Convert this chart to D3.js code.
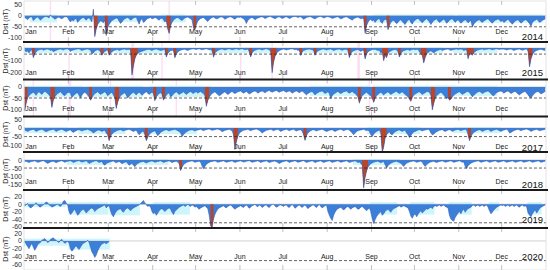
<!DOCTYPE html>
<html>
<head>
<meta charset="utf-8">
<script src="https://cdn.jsdelivr.net/npm/d3@7"></script>
<style>
  body { margin: 0; background: #fff; }
  text { font-family: "Liberation Sans", Arial, sans-serif; }
</style>
</head>
<body>
<script>
// daily Dst (nT), one value per day
var years = [2014, 2015, 2016, 2017, 2018, 2019, 2020];
var monthNames = ["Jan", "Feb", "Mar", "Apr", "May", "Jun", "Jul", "Aug", "Sep", "Oct", "Nov", "Dec"];
var monthStarts = [0, 31, 59, 90, 120, 151, 181, 212, 243, 273, 304, 334];

var dst2014 = [
  -8,-12,-18,-10,-6,-4,-22,-15,-9,-6, -12,-20,-14,-8,-5,-3,-6,-10,4,-5, -9,-16,-12,-8,-6,-11,-14,-9,-5,-4, -8,
  -20,-28,-18,-24,-15,-12,-30,-22,-16,-10, -8,-14,-20,-12,-9,-18,-28,30,-95,-60, -40,-30,-24,-26,-32,-20,-90,-55,
  -40,-30,-22,-18,-14,-10,-12,-25,-35,-28, -18,-14,-10,-8,-12,-20,-16,-10,-8,-6, -24,-38,-20,-14,-30,-26,-18,-12,-10,-8, -14,
  -12,-8,-10,-16,-20,-14,-10,-18,-28,-22, -60,-80,-45,-30,-20,-14,-10,-8,-12,-18, -22,-15,-10,-8,-6,-10,-14,-20,-55,-65,
  -40,-25,-18,-12,-10,-8,-14,-20,-26,-18, -12,-8,-6,-10,-14,-12,-8,-6,-5,-10, -16,-12,-8,-6,-4,-8,-12,-16,-10,-6, -8,
  -6,-10,-14,-20,-35,-22,-15,-10,-8,-12, -18,-14,-10,-8,-6,-4,-8,-12,-10,-6, -4,-3,-8,-10,-14,-10,-6,-5,-8,-12,
  -10,-6,-5,-8,-12,-10,-6,-4,-3,-5, -8,-6,-4,-10,-16,-12,-8,-6,-5,-4, -8,-12,-14,-10,-6,-4,-3,-6,-10,-8, -5,
  -4,-6,-8,-12,-10,-8,-6,-4,-10,-14, -12,-8,-6,-5,-8,-12,-16,-20,-14,-10, -8,-6,-10,-14,-12,-10,-80,-45,-30,-20, -16,
  -25,-18,-30,-22,-16,-12,-28,-35,-20,-18, -14,-63,-45,-30,-24,-20,-28,-36,-30,-22, -18,-26,-34,-40,-28,-20,-16,-30,-38,-25,
  -20,-15,-12,-18,-26,-32,-25,-18,-14,-20, -28,-40,-30,-22,-18,-14,-24,-30,-26,-20, -16,-22,-34,-28,-20,-16,-14,-22,-30,-24, -18,
  -26,-34,-28,-22,-18,-24,-32,-26,-20,-52, -38,-30,-24,-20,-18,-26,-30,-24,-20,-16, -14,-22,-28,-34,-26,-20,-18,-14,-20,-26,
  -22,-30,-26,-20,-16,-24,-32,-38,-30,-24, -20,-18,-26,-34,-28,-22,-18,-20,-28,-36, -48,-30,-24,-20,-16,-22,-30,-26,-20,-18, -14
];
var dst2015 = [
  -20,-30,-25,-40,-22,-15,-80,-50,-30,-20, -15,-12,-10,-18,-14,-10,-8,-12,-20,-16, -30,-24,-18,-14,-10,-8,-12,-16,-10,-8, -6,
  -14,-28,-20,-16,-12,-10,-8,-6,-14,-20, -16,-12,-10,-8,-12,-18,-50,-40,-24,-18, -14,-20,-30,-60,-40,-28,-20,-14,
  -60,-40,-30,-22,-18,-14,-12,-20,-16,-12, -10,-8,-14,-12,-10,-20,-223,-150,-90,-60, -45,-36,-30,-26,-22,-18,-14,-12,-10,-16, -20,
  -14,-10,-8,-12,-16,-20,-18,-14,-12,-75, -45,-30,-22,-18,-20,-80,-50,-32,-24,-18, -14,-12,-10,-16,-20,-14,-10,-8,-6,-10,
  -12,-8,-6,-10,-14,-12,-8,-6,-10,-14, -12,-20,-76,-40,-28,-20,-14,-10,-8,-12, -16,-12,-8,-6,-10,-14,-12,-8,-6,-10, -12,
  -8,-6,-10,-14,-12,-8,-30,-73,-40,-26, -18,-14,-10,-8,-12,-16,-12,-8,-6,-10, -14,-30,-204,-120,-70,-45,-30,-22,-16,-12,
  -8,-12,-16,-12,-10,-8,-6,-10,-14,-12, -20,-16,-61,-35,-22,-16,-12,-10,-8,-12, -14,-20,-60,-35,-24,-18,-14,-10,-8,-12, -16,
  -12,-10,-8,-14,-20,-16,-12,-10,-8,-14, -18,-14,-10,-12,-20,-80,-45,-30,-22,-18, -14,-12,-20,-28,-20,-16,-90,-50,-32,-24, -18,
  -14,-12,-10,-16,-20,-18,-40,-30,-105,-60, -80,-45,-30,-24,-18,-14,-12,-16,-30,-75, -45,-30,-22,-18,-14,-12,-20,-16,-12,-10,
  -14,-12,-10,-30,-50,-60,-124,-80,-50,-36, -28,-22,-30,-40,-30,-22,-18,-14,-12,-20, -16,-12,-10,-8,-14,-20,-16,-12,-10,-8, -12,
  -10,-8,-12,-20,-16,-12,-89,-50,-40,-60, -40,-28,-20,-16,-12,-10,-8,-14,-12,-10, -8,-6,-10,-14,-12,-8,-6,-10,-12,-8,
  -10,-8,-12,-16,-12,-10,-8,-14,-20,-16, -12,-10,-8,-14,-18,-14,-10,-8,-30,-155, -90,-55,-36,-26,-20,-16,-12,-10,-14,-18, -20
];
var dst2016 = [
  -110,-75,-50,-40,-32,-28,-24,-30,-38,-26, -22,-28,-34,-26,-20,-24,-30,-36,-45,-93, -60,-45,-36,-30,-26,-22,-28,-36,-40,-32, -26,
  -24,-30,-48,-40,-34,-28,-26,-38,-50,-36, -28,-24,-30,-36,-45,-60,-50,-38,-30,-26, -22,-28,-34,-30,-26,-22,-28,-40,
  -34,-28,-24,-36,-50,-98,-70,-50,-40,-34, -30,-26,-36,-50,-42,-34,-28,-24,-30,-36, -28,-24,-30,-38,-32,-26,-22,-28,-34,-28, -24,
  -30,-62,-45,-36,-30,-26,-34,-60,-48,-38, -30,-26,-45,-40,-32,-26,-22,-28,-34,-30, -26,-22,-28,-34,-28,-24,-20,-26,-30,-24,
  -22,-28,-24,-20,-26,-30,-40,-88,-62,-45, -36,-30,-26,-22,-28,-34,-40,-36,-30,-26, -22,-28,-34,-30,-24,-20,-26,-30,-26,-22, -20,
  -18,-24,-28,-24,-20,-26,-32,-28,-24,-20, -18,-22,-28,-24,-20,-18,-22,-26,-22,-18, -16,-20,-24,-20,-18,-16,-20,-24,-20,-18,
  -16,-20,-24,-20,-18,-22,-28,-24,-20,-18, -22,-26,-22,-18,-24,-30,-36,-30,-26,-22, -20,-28,-36,-30,-26,-22,-20,-18,-24,-30, -26,
  -22,-30,-53,-40,-32,-28,-24,-20,-26,-30, -26,-22,-20,-18,-24,-28,-24,-20,-26,-30, -36,-45,-74,-52,-40,-34,-28,-24,-30,-36, -40,
  -50,-70,-52,-40,-34,-28,-24,-30,-36,-30, -26,-22,-28,-34,-30,-26,-22,-20,-26,-30, -26,-22,-28,-34,-40,-46,-55,-65,-48,-38,
  -32,-28,-24,-22,-28,-34,-30,-26,-22,-20, -26,-36,-104,-75,-52,-40,-34,-28,-24,-30, -36,-45,-52,-48,-60,-55,-46,-38,-32,-28, -24,
  -22,-28,-34,-30,-26,-22,-20,-26,-34,-45, -38,-32,-26,-22,-20,-24,-30,-26,-22,-20, -18,-24,-30,-38,-40,-32,-26,-22,-20,-18,
  -22,-28,-24,-20,-18,-24,-30,-26,-22,-20, -26,-32,-36,-30,-26,-22,-20,-28,-36,-45, -50,-40,-32,-26,-22,-20,-26,-32,-28,-24, -20
];
var dst2017 = [
  -12,-16,-20,-16,-12,-10,-8,-14,-20,-16, -12,-10,-8,-12,-18,-22,-18,-14,-12,-10, -8,-14,-20,-16,-12,-10,-8,-12,-16,-20, -16,
  -14,-12,-20,-26,-20,-16,-12,-10,-14,-18, -14,-12,-10,-8,-12,-16,-20,-30,-24,-18, -14,-12,-16,-20,-16,-14,-30,-40,
  -74,-50,-36,-28,-22,-18,-14,-12,-10,-14, -18,-14,-12,-10,-8,-12,-16,-20,-16,-12, -28,-40,-30,-22,-18,-40,-74,-55,-40,-30, -24,
  -20,-16,-30,-45,-36,-26,-20,-16,-12,-10, -14,-18,-14,-12,-10,-8,-12,-16,-20,-30, -50,-40,-30,-24,-18,-14,-12,-10,-14,-18,
  -14,-12,-10,-8,-12,-16,-12,-10,-8,-6, -10,-14,-12,-10,-8,-6,-10,-14,-22,-18, -14,-12,-10,-8,-12,-16,-40,-125,-80,-50, -32,
  -24,-18,-14,-12,-10,-8,-12,-16,-12,-10, -8,-6,-10,-14,-20,-30,-24,-18,-14,-12, -10,-8,-12,-16,-12,-10,-8,-14,-20,-16,
  -12,-10,-8,-12,-16,-12,-10,-8,-14,-18, -14,-12,-10,-20,-40,-72,-45,-30,-22,-16, -12,-10,-14,-18,-14,-12,-10,-8,-12,-16, -20,
  -18,-14,-12,-10,-16,-20,-16,-12,-10,-8, -12,-16,-12,-10,-8,-14,-20,-30,-40,-30, -22,-16,-14,-12,-10,-8,-12,-16,-12,-20, -40,
  -50,-36,-26,-20,-16,-12,-30,-142,-110,-60, -40,-30,-22,-36,-40,-30,-22,-18,-14,-12, -16,-20,-16,-12,-30,-40,-55,-45,-32,-24,
  -20,-16,-12,-10,-14,-18,-14,-12,-10,-8, -12,-30,-40,-36,-28,-22,-18,-14,-12,-10, -16,-20,-16,-12,-10,-14,-20,-16,-12,-10, -8,
  -12,-16,-12,-10,-8,-14,-40,-74,-50,-36, -26,-20,-16,-12,-10,-14,-20,-16,-12,-10, -8,-14,-20,-16,-12,-10,-8,-12,-16,-20,
  -16,-12,-10,-8,-14,-30,-26,-20,-16,-12, -10,-8,-12,-16,-12,-10,-8,-6,-10,-14, -20,-16,-12,-10,-8,-12,-16,-14,-12,-10, -8
];
var dst2018 = [
  -10,-8,-12,-16,-11,-9,-7,-5,-10,-14, -13,-9,-6,-4,-9,-15,-21,-17,-12,-9, -7,-12,-17,-13,-9,-6,-4,-9,-14,-11, -8,
  -6,-4,-9,-15,-12,-8,-6,-3,-9,-13, -11,-8,-5,-13,-22,-17,-12,-9,-6,-4, -10,-15,-12,-9,-26,-32,-24,-17,
  -14,-11,-8,-6,-12,-17,-13,-9,-15,-24, -19,-14,-11,-21,-33,-27,-20,-32,-42,-30, -22,-17,-13,-11,-9,-14,-19,-14,-11,-8, -6,
  -9,-14,-12,-9,-7,-5,-10,-15,-12,-9, -7,-5,-11,-16,-12,-9,-7,-14,-22,-66, -45,-31,-22,-16,-12,-9,-7,-5,-10,-14,
  -12,-9,-7,-14,-38,-55,-40,-28,-20,-15, -11,-9,-7,-5,-10,-14,-12,-9,-7,-5, -10,-14,-12,-9,-7,-5,-11,-15,-12,-9, -7,
  -5,-9,-13,-11,-8,-6,-4,-9,-14,-12, -9,-7,-5,-10,-15,-12,-9,-7,-5,-11, -16,-13,-10,-8,-6,-11,-16,-22,-17,-12,
  -9,-7,-5,-10,-15,-12,-9,-7,-4,-9, -14,-12,-9,-6,-4,-10,-15,-13,-10,-7, -5,-10,-16,-13,-9,-7,-5,-11,-15,-12, -9,
  -7,-5,-10,-15,-12,-9,-7,-5,-10,-14, -12,-9,-7,-5,-10,-15,-13,-9,-7,-5, -10,-15,-13,-21,-32,-175,-110,-70,-45,-32, -24,
  -18,-14,-11,-9,-7,-12,-17,-13,-10,-30, -50,-36,-26,-20,-16,-12,-10,-8,-12,-16, -22,-30,-40,-28,-20,-16,-12,-10,-8,-6,
  -10,-14,-12,-9,-7,-14,-30,-40,-30,-22, -16,-12,-10,-8,-12,-16,-12,-9,-7,-5, -10,-14,-12,-9,-7,-5,-10,-14,-12,-9, -7,
  -5,-10,-14,-12,-40,-53,-36,-26,-20,-16, -12,-9,-7,-5,-10,-14,-12,-9,-7,-5, -10,-14,-12,-9,-7,-5,-10,-14,-12,-9,
  -7,-5,-10,-14,-12,-9,-7,-5,-10,-14, -12,-9,-7,-5,-10,-14,-12,-9,-7,-5, -10,-14,-12,-9,-7,-5,-10,-14,-12,-9, -7
];
var dst2019 = [
  -4,-2,2,-6,-10,-8,-4,0,4,-2, -6,-8,-4,-2,2,6,4,-2,-4,-8, -6,-4,-2,0,-4,-6,-2,8,10,4, -2,
  -20,-28,-24,-18,-14,-22,-30,-26,-20,-16, -14,-18,-24,-20,-16,-12,-10,-14,-20,-16, -12,-10,-8,-6,-4,-2,-10,-6,
  -4,-18,-28,-34,-26,-20,-16,-14,-12,-18, -22,-16,-12,-10,-14,-18,-14,-10,-8,-6, -4,-2,2,6,10,4,-2,-6,-4,-8, -20,
  -26,-22,-30,-24,-18,-14,-12,-16,-20,-16, -12,-10,-14,-22,-28,-20,-16,-12,-8,-6, -4,-2,-6,-4,0,-4,-6,-2,-4,-8,
  -6,-10,-14,-10,-8,-6,-4,-8,-12,-30, -58,-63,-40,-28,-20,-14,-10,-8,-6,-4, -8,-10,-6,-4,-2,-6,-10,-14,-10,-8, -6,
  -4,-7,-9,-5,-2,-6,-11,-8,-4,-3, 0,-5,-7,-2,-4,-9,-6,-3,-2,-7, -9,-4,-1,0,-5,-8,-6,-3,-2,-4,
  -6,-3,-2,-7,-9,-4,-1,-5,-11,-8, -4,-2,-6,-9,-5,-2,-7,-12,-8,-6, -3,-2,-6,-9,-4,-1,-6,-10,-7,-4, -2,
  -20,-30,-38,-44,-30,-22,-16,-12,-10,-8, -12,-16,-12,-8,-6,-10,-14,-10,-8,-6, -10,-14,-12,-8,-6,-10,-14,-18,-14,-10, -20,
  -40,-52,-42,-34,-28,-24,-20,-30,-26,-20, -16,-14,-18,-22,-16,-12,-10,-8,-6,-4, -8,-6,-4,-6,-8,-10,-20,-32,-38,-30,
  -26,-34,-28,-22,-18,-24,-20,-16,-12,-14, -10,-8,-12,-6,-4,-6,-4,-2,-6,-4, -2,-6,-8,-10,-30,-40,-44,-46,-36,-30, -24,
  -20,-26,-18,-14,-22,-16,-12,-10,-8,-4, -2,-6,-4,-2,-6,-4,-2,-6,-4,-2, -8,-18,-26,-22,-16,-12,-8,-6,-4,-2,
  -4,-2,-6,-4,-2,-6,-4,-2,-6,-4, -2,-6,-8,-4,-2,-6,-4,-8,-24,-30, -34,-26,-20,-16,-24,-18,-12,-8,-6,-4, -2
];
var dst2020 = [
  -2,-8,-14,-20,-12,-6,-16,-24,-18,-10, -6,-4,2,4,6,2,-4,-2,4,6, 8,4,2,-2,-4,2,4,-2,-6,-4, 0,
  -6,-20,-26,-22,-16,-12,-18,-22,-16,-10, -6,-4,-2,2,-4,-16,-28,-34,-42,-36, -26,-18,-12,-8,-6,-4,-8,-4,-2
];

// shaded intervals [first day, last day, lower edge nT] (light cyan)
var shade2014 = [[4, 22, -30], [33, 46, -28], [60, 78, -28], [96, 112, -30], [244, 300, -32], [303, 362, -32]];
var shade2015 = [[0, 30, -40], [34, 62, -40], [64, 100, -45], [130, 176, -40], [196, 232, -40], [244, 292, -45], [300, 330, -40]];
var shade2016 = [[0, 40, -45], [44, 82, -45], [88, 130, -45], [200, 240, -40], [244, 300, -40], [284, 330, -40]];
var shade2017 = [[0, 30, -30], [38, 70, -35], [80, 120, -35], [240, 276, -35], [300, 332, -30]];
var shade2018 = [[30, 60, -30], [70, 100, -30], [230, 262, -30]];
var shade2019 = [[0, 28, -8], [31, 58, -28], [60, 80, -30], [90, 115, -28], [242, 260, -28], [270, 286, -28], [297, 312, -28], [325, 331, -18], [352, 361, -28]];
var shade2020 = [[0, 30, -12], [31, 59, -22]];

// short pink bands [first day, last day]
var pink2014 = [[18, 18], [101, 101]];
var pink2015 = [[31, 31], [75, 76], [96, 96], [151, 151], [173, 173], [233, 234]];
var pink2016 = [[6, 6], [31, 32], [60, 60], [106, 106], [241, 241]];
var pink2017 = [];
var pink2018 = [];
var pink2019 = [];
var pink2020 = [];

var ticks2014 = [50, 0, -50, -100];
var ticks2015 = [0, -100, -200];
var ticks2016 = [0, -50, -100];
var ticks2017 = [50, 0, -50, -100];
var ticks2018 = [0, -50, -100, -150];
var ticks2019 = [20, 0, -20, -40, -60];
var ticks2020 = [20, 0, -20, -40, -60];

var stormLevel = -60;

// panel geometry (pixels) and value range of each row
var layout = [
  {top: 1, bottom: 42, domain: [-119, 67], monthY: 34, yearY: 39.5},
  {top: 42, bottom: 79.5, domain: [-260, 50], monthY: 74.5, yearY: 76},
  {top: 79.5, bottom: 116.5, domain: [-134, 34], monthY: 111, yearY: null},
  {top: 116.5, bottom: 152, domain: [-139, 66], monthY: 149, yearY: 151},
  {top: 152, bottom: 190, domain: [-187, 50], monthY: 183.5, yearY: 188},
  {top: 190, bottom: 228, domain: [-64, 38], monthY: null, yearY: 222.5},
  {top: 228, bottom: 270, domain: [-74, 33], monthY: 258.5, yearY: 260}
];

var series = [dst2014, dst2015, dst2016, dst2017, dst2018, dst2019, dst2020];
var shades = [shade2014, shade2015, shade2016, shade2017, shade2018, shade2019, shade2020];
var pinks = [pink2014, pink2015, pink2016, pink2017, pink2018, pink2019, pink2020];
var ticks = [ticks2014, ticks2015, ticks2016, ticks2017, ticks2018, ticks2019, ticks2020];

var W = 550, H = 270;
var left = 24, right = 546;

var svg = d3.select("body").append("svg")
    .attr("width", W)
    .attr("height", H);

var x = d3.scaleLinear().domain([0, 365]).range([left, right]);

layout.forEach(function(p, k) {
    var y = d3.scaleLinear().domain(p.domain).range([p.bottom, p.top]);
    var vals = series[k];
    var g = svg.append("g");

    g.append("clipPath").attr("id", "clip" + k)
        .append("rect")
        .attr("x", left).attr("y", p.top)
        .attr("width", right - left).attr("height", p.bottom - p.top);

    var plot = g.append("g").attr("clip-path", "url(#clip" + k + ")");

    // pink bands
    plot.selectAll("rect.pink").data(pinks[k]).join("rect")
        .attr("x", function(d) { return x(d[0]); })
        .attr("width", function(d) { return x(d[1] + 1) - x(d[0]); })
        .attr("y", p.top)
        .attr("height", p.bottom - p.top)
        .attr("fill", "#fcdff5");

    // cyan shading
    plot.selectAll("rect.shade").data(shades[k]).join("rect")
        .attr("x", function(d) { return x(d[0]); })
        .attr("width", function(d) { return x(d[1] + 1) - x(d[0]); })
        .attr("y", y(6))
        .attr("height", function(d) { return y(d[2]) - y(6); })
        .attr("fill", "#cdf5fc");

    // zero line
    plot.append("line")
        .attr("x1", left).attr("x2", right)
        .attr("y1", y(0)).attr("y2", y(0))
        .attr("stroke", "#c4c4c4").attr("stroke-width", 0.8);

    var area = d3.area()
        .x(function(d, i) { return x(i + 0.5); })
        .y0(y(0))
        .y1(function(d) { return y(d); });

    plot.append("path").datum(vals)
        .attr("d", area)
        .attr("fill", "#3b7fd9");

    // storm days in red
    var storm = vals.map(function(v) { return v <= stormLevel; });
    var redArea = d3.area()
        .defined(function(d, i) { return storm[i] || storm[i - 1] || storm[i + 1]; })
        .x(function(d, i) { return x(i + 0.5); })
        .y0(y(0))
        .y1(function(d) { return y(d); });
    plot.append("path").datum(vals)
        .attr("d", redArea)
        .attr("fill", "#b8452c");

    var line = d3.line()
        .x(function(d, i) { return x(i + 0.5); })
        .y(function(d) { return y(d); });
    plot.append("path").datum(vals)
        .attr("d", line)
        .attr("fill", "none")
        .attr("stroke", "#2b52ab")
        .attr("stroke-width", 0.5);

    // -50 nT reference
    plot.append("line")
        .attr("x1", left).attr("x2", right)
        .attr("y1", y(-50)).attr("y2", y(-50))
        .attr("stroke", "#222").attr("stroke-width", 0.7)
        .attr("stroke-dasharray", "3,2");

    // frame
    g.append("rect")
        .attr("x", left).attr("y", p.top)
        .attr("width", right - left).attr("height", p.bottom - p.top)
        .attr("fill", "none").attr("stroke", "#cfcfcf").attr("stroke-width", 0.6);

    // month ticks, top and bottom, pointing in
    g.selectAll("line.mt").data(monthStarts.slice(1)).join("line")
        .attr("x1", function(d) { return x(d); }).attr("x2", function(d) { return x(d); })
        .attr("y1", p.bottom).attr("y2", p.bottom - 5)
        .attr("stroke", "#999").attr("stroke-width", 0.6);
    g.selectAll("line.mtt").data(monthStarts.slice(1)).join("line")
        .attr("x1", function(d) { return x(d); }).attr("x2", function(d) { return x(d); })
        .attr("y1", p.top).attr("y2", p.top + 4)
        .attr("stroke", "#999").attr("stroke-width", 0.6);

    if (p.monthY !== null) {
        g.selectAll("text.month").data(monthNames).join("text")
            .attr("x", function(d, i) { return i === 0 ? x(0) + 7 : x(monthStarts[i]); })
            .attr("y", p.monthY)
            .attr("text-anchor", "middle")
            .attr("font-size", 7)
            .attr("fill", "#222")
            .text(function(d) { return d; });
    }

    // y axis labels
    g.selectAll("text.tick").data(ticks[k]).join("text")
        .attr("x", 22)
        .attr("y", function(d) { return y(d) + 2.5; })
        .attr("text-anchor", "end")
        .attr("font-size", 7)
        .attr("fill", "#333")
        .text(function(d) { return d; });

    g.append("text")
        .attr("transform", "translate(8," + ((p.top + p.bottom) / 2) + ") rotate(-90)")
        .attr("text-anchor", "middle")
        .attr("font-size", 7)
        .attr("fill", "#222")
        .text("Dst (nT)");

    if (p.yearY !== null) {
        g.append("text")
            .attr("x", 543).attr("y", p.yearY)
            .attr("text-anchor", "end")
            .attr("font-size", 9.5)
            .attr("fill", "#111")
            .text(years[k]);
    }
});

// heavy separators between the rows
svg.selectAll("line.sep").data(layout.slice(0, 6)).join("line")
    .attr("x1", 23).attr("x2", 548)
    .attr("y1", function(d) { return d.bottom; })
    .attr("y2", function(d) { return d.bottom; })
    .attr("stroke", "#1a1a1a")
    .attr("stroke-width", 2);
</script>
</body>
</html>
